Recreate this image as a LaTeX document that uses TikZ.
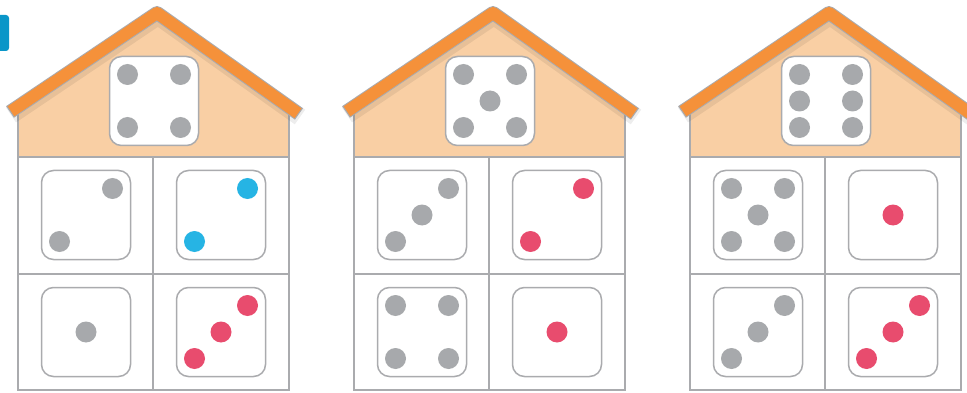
\documentclass[tikz,border=0pt]{standalone}
\usepackage{tikz}
\definecolor{pipgray}{RGB}{167,169,172}
\definecolor{linegray}{RGB}{170,171,174}
\definecolor{roofor}{RGB}{245,145,58}
\definecolor{gablepeach}{RGB}{249,207,164}
\definecolor{pipblue}{RGB}{38,180,228}
\definecolor{pipred}{RGB}{232,76,110}
\definecolor{tabblue}{RGB}{10,150,200}
\tikzset{
	diebox/.style={draw=linegray, line width=1.5pt, fill=white, rounded corners=12pt, minimum size=89pt, inner sep=0pt},
	wall/.style={draw=linegray, line width=1.6pt},
	roofline/.style={line width=14pt, line join=round},
}
\newcommand{\die}[5]{%
	\node[diebox] (#1) at (#2,#3) {};
	\foreach \dx/\dy in {#5} {\fill[#4] (#1.center) ++(\dx*26.5,\dy*26.5) circle (10.5pt);}
}

\begin{document}
\begin{tikzpicture}[x=1pt,y=-1pt]
\useasboundingbox (0,0) rectangle (967,393);
\fill[tabblue, rounded corners=3pt] (-10,15) rectangle (9,51);

				\foreach \hx in {0,336,672} {
\begin{scope}[shift={(\hx,0)}]
	\draw[wall, fill=gablepeach] (18,157) -- (18,112) -- (157,20) -- (289,112) -- (289,157) -- cycle;
	\draw[wall, fill=white] (18,157) rectangle (289,390);
	\draw[wall] (153,157) -- (153,390);
	\draw[wall] (18,274) -- (289,274);
	\draw[roofline, black, opacity=0.07, line width=18pt] (11,115) -- (158,16) -- (300,117);
	\draw[roofline, linegray] (10,112) -- (157,13) -- (299,114);
	\draw[roofline, roofor, line width=12pt, shorten <=1.2pt, shorten >=1.2pt] (10,112) -- (157,13) -- (299,114);
\end{scope}
				}

\begin{scope}
	\die{h1top}{154}{101}{pipgray}{-1/-1,1/-1,-1/1,1/1}
	\die{h1tl}{86}{215}{pipgray}{1/-1,-1/1}
	\die{h1tr}{221}{215}{pipblue}{1/-1,-1/1}
	\die{h1bl}{86}{332}{pipgray}{0/0}
	\die{h1br}{221}{332}{pipred}{1/-1,0/0,-1/1}
\end{scope}

\begin{scope}[shift={(336,0)}]
	\die{h2top}{154}{101}{pipgray}{-1/-1,1/-1,0/0,-1/1,1/1}
	\die{h2tl}{86}{215}{pipgray}{1/-1,0/0,-1/1}
	\die{h2tr}{221}{215}{pipred}{1/-1,-1/1}
	\die{h2bl}{86}{332}{pipgray}{-1/-1,1/-1,-1/1,1/1}
	\die{h2br}{221}{332}{pipred}{0/0}
\end{scope}

\begin{scope}[shift={(672,0)}]
	\die{h3top}{154}{101}{pipgray}{-1/-1,1/-1,-1/0,1/0,-1/1,1/1}
	\die{h3tl}{86}{215}{pipgray}{-1/-1,1/-1,0/0,-1/1,1/1}
	\die{h3tr}{221}{215}{pipred}{0/0}
	\die{h3bl}{86}{332}{pipgray}{1/-1,0/0,-1/1}
	\die{h3br}{221}{332}{pipred}{1/-1,0/0,-1/1}
\end{scope}
\end{tikzpicture}
\end{document}
